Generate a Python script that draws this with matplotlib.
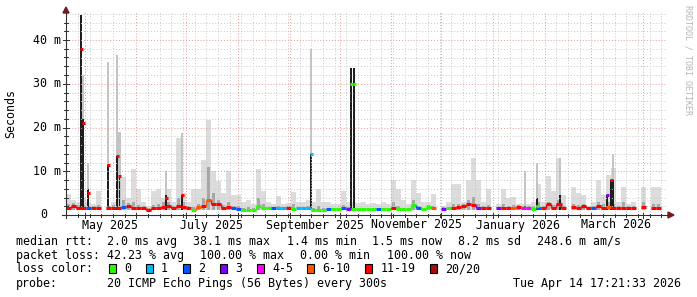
import numpy as np
import pandas as pd
import matplotlib
matplotlib.use('Agg')
import matplotlib.pyplot as plt
import matplotlib.dates as mdates
from matplotlib.patches import Rectangle, Polygon
from matplotlib.lines import Line2D

W, H = 697, 297

t_start = pd.Timestamp('2025-04-19 17:21:33')
t_end = pd.Timestamp('2026-04-14 17:21:33')
bin_days = 3

# one value per 3-day bin (120 bins), nan = 20/20 lost
median_ms = [
    1.5, 2.0, 1.5, 1.5, 1.5, 1.5, 1.5, np.nan, 1.5, 1.5,
    1.5, 1.8, 2.0, 1.5, 1.5, 1.5, 1.2, 1.5, 1.5, 1.8,
    2.0, 1.5, 2.0, 1.8, 1.5, 1.2, 1.8, 2.0, 3.5, 2.5,
    2.5, 1.5, 1.8, 1.5, 1.4, 1.1, 1.1, 1.1, 2.0, 1.6,
    1.5, 1.5, 1.5, 1.5, 1.5, 1.4, 1.5, 1.5, 1.5, 1.1,
    1.1, 1.1, 1.3, 1.3, 1.3, 1.5, 1.4, 1.3, 1.3, 1.3,
    1.3, 1.4, 1.4, 1.3, 1.3, 1.6, 1.4, 1.3, 1.3, 2.2,
    1.5, 1.3, 1.8, 1.5, np.nan, 1.4, 1.5, 1.5, 1.8, 2.0,
    2.5, 2.2, 1.5, 1.5, 1.5, np.nan, 1.5, 1.5, 1.5, 1.6,
    1.8, 1.6, 1.5, 1.3, 1.5, 1.5, 2.5, 1.5, 2.5, 1.5,
    np.nan, 1.8, 1.5, 2.0, 1.5, 1.5, 2.0, 1.6, 1.8, 1.5,
    1.5, 1.5, 1.5, 1.5, np.nan, 1.8, np.nan, 1.5, 1.5, np.nan,
]
loss_pings = [
    15, 15, 15, 15, 2, 15, 15, 20, 15, 15,
    15, 2, 15, 15, 15, 15, 15, 15, 15, 15,
    15, 15, 15, 15, 15, 0, 8, 15, 8, 15,
    15, 15, 15, 2, 2, 0, 0, 0, 0, 0,
    0, 2, 1, 1, 15, 0, 1, 1, 1, 0,
    0, 0, 2, 0, 0, 2, 3, 0, 0, 0,
    0, 0, 2, 0, 0, 15, 0, 0, 0, 0,
    2, 0, 0, 8, 20, 3, 0, 15, 15, 15,
    15, 15, 3, 15, 15, 20, 3, 15, 15, 8,
    15, 5, 5, 0, 2, 15, 15, 15, 15, 15,
    20, 15, 15, 15, 15, 2, 15, 15, 8, 15,
    15, 15, 15, 15, 20, 15, 20, 15, 15, 20,
]
smoke_max_ms = [
    4.8, 3.5, 3.0, 4.0, 3.0, 2.5, 5.5, np.nan, 2.0, 3.0,
    10.0, 8.6, 4.0, 10.5, 6.0, 3.0, 2.0, 5.5, 6.0, 4.0,
    6.0, 3.0, 17.5, 5.0, 3.0, 5.9, 5.9, 12.5, 21.6, 10.0,
    7.7, 5.0, 10.0, 4.5, 4.5, 3.0, 3.5, 2.5, 10.5, 5.5,
    3.0, 2.5, 4.3, 2.5, 2.8, 5.3, 3.0, 3.0, 3.5, 3.0,
    5.9, 3.0, 3.0, 2.5, 2.5, 5.5, 3.0, 3.0, 2.7, 3.0,
    2.5, 2.7, 2.5, 3.0, 2.5, 8.0, 6.0, 3.4, 2.5, 8.1,
    5.0, 3.0, 3.0, 4.9, np.nan, 2.0, 3.0, 7.0, 7.0, 3.0,
    8.0, 13.0, 8.0, 3.0, 6.0, np.nan, 2.5, 6.0, 4.0, 4.2,
    2.5, 2.5, 2.5, 3.0, 7.0, 3.0, 9.0, 5.5, 13.0, 4.5,
    np.nan, 6.4, 5.0, 4.5, 2.0, 3.0, 8.0, 4.5, 9.1, 10.7,
    3.0, 6.5, 2.5, 3.0, np.nan, 6.5, np.nan, 6.4, 6.4, np.nan,
]
smoke_mid_ms = [
    2.5, 2.8, 2.2, 2.2, 2.0, 2.0, 2.2, np.nan, 2.0, 2.2,
    4.0, 3.5, 2.8, 3.0, 2.2, 2.0, 1.6, 2.2, 2.5, 3.0,
    3.0, 2.0, 4.0, 3.0, 2.0, 1.8, 2.5, 4.0, 11.0, 5.0,
    3.5, 2.2, 3.0, 2.0, 2.0, 1.5, 1.8, 1.5, 4.0, 2.5,
    1.8, 1.8, 2.0, 1.8, 2.0, 2.5, 1.8, 1.8, 2.0, 1.5,
    2.0, 1.5, 1.6, 1.6, 1.6, 2.2, 1.8, 1.6, 1.6, 1.6,
    1.6, 1.7, 1.7, 1.6, 1.6, 3.0, 2.0, 1.6, 1.6, 3.5,
    2.0, 1.6, 2.2, 2.0, np.nan, 1.8, 1.8, 2.5, 2.5, 2.5,
    3.5, 4.2, 2.5, 2.0, 2.2, np.nan, 1.8, 2.5, 2.0, 2.2,
    2.2, 2.0, 2.0, 2.0, 3.0, 2.0, 3.0, 2.2, 3.5, 2.0,
    np.nan, 2.5, 2.2, 2.5, 1.8, 2.0, 3.0, 2.5, 3.0, 2.5,
    2.0, 3.0, 2.0, 2.0, np.nan, 3.0, np.nan, 2.5, 2.5, np.nan,
]
min_rtt_ms = 1.2

# short spikes narrower than a bin
spike_time = ['2025-04-28 18:00', '2025-04-30 00:00', '2025-05-03 00:00',
              '2025-05-15 00:00', '2025-05-20 10:00', '2025-05-21 22:00',
              '2025-06-18 18:00', '2025-06-28 10:00', '2025-09-13 18:00',
              '2025-10-07 18:00', '2025-10-09 14:00', '2026-01-20 05:00',
              '2026-01-27 10:00', '2026-02-10 05:00', '2026-03-10 10:00',
              '2026-03-12 18:00', '2026-03-14 00:00']
spike_max_ms = [45.7, 32, 12, 35, 36.5, 19, 10, 18.7, 38, 33.6, 33.6,
                10, 11.8, 13, 4.5, 8, 14]
spike_dark_ms = [45.7, 22, 6, 11.5, 13.5, 9, 4.5, 4.5, 14, 33.6, 33.6,
                 2, 4, 4.5, 4.5, 8, 8]
spike_median_ms = [38, 21, 5, 11.5, 13.5, 8.9, 4, 4.5, 14, 30, 30,
                   np.nan, 2, 2.5, 4.5, 8, np.nan]
spike_loss = [15, 15, 15, 15, 15, 15, 15, 15, 1, 0, 0, 15, 0, 15, 3, 15, 15]

loss_bounds = [0, 1, 2, 3, 5, 10, 19, 20]
loss_hex = ['#26ff00', '#00b8ff', '#0059ff', '#7e00ff', '#ff00ff',
            '#ff5500', '#ff0000', '#a01010']
loss_names = ['0', '1', '2', '3', '4-5', '6-10', '11-19', '20/20']

stats_rtt = ['2.0 ms avg', '38.1 ms max', '1.4 ms min', '1.5 ms now',
             '8.2 ms sd', '248.6 m am/s']
stats_loss = ['42.23 % avg', '100.00 % max', '0.00 % min', '100.00 % now']


def loss_color(n):
    for b, c in zip(loss_bounds, loss_hex):
        if n <= b:
            return c
    return loss_hex[-1]


def fx(x):
    return x / W


def fy(y):
    return 1 - y / H


mono = 'DejaVu Sans Mono'
fs = 8.4

fig = plt.figure(figsize=(W / 100, H / 100), dpi=100)
fig.patch.set_facecolor('white')
ax = fig.add_axes([fx(66), fy(215), 600 / W, 203 / H])
ymax = 203 / 4.375
t0 = mdates.date2num(t_start)
t1 = mdates.date2num(t_end)
ax.set_xlim(t0, t1)
ax.set_ylim(0, ymax)
for s in ax.spines.values():
    s.set_visible(False)

# smoke per bin
edges = t0 + bin_days * np.arange(len(median_ms))
med = np.array(median_ms, dtype=float)
hi = np.array(smoke_max_ms, dtype=float)
mid = np.array(smoke_mid_ms, dtype=float)
ok = ~np.isnan(hi)
ax.bar(edges[ok], hi[ok] - min_rtt_ms, bottom=min_rtt_ms, width=bin_days,
       align='edge', color='#dcdcdc', linewidth=0, zorder=1)
ax.bar(edges[ok] + 0.6, mid[ok] - min_rtt_ms, bottom=min_rtt_ms,
       width=bin_days - 1.2, align='edge', color='#a6a6a6', linewidth=0,
       zorder=1.1)

# spikes
sx = mdates.date2num(pd.to_datetime(spike_time))
smax = np.array(spike_max_ms)
sdark = np.array(spike_dark_ms)
ax.bar(sx, smax - min_rtt_ms, bottom=min_rtt_ms, width=1.6, color='#c4c4c4',
       linewidth=0, zorder=1.2)
ax.bar(sx, sdark - min_rtt_ms, bottom=min_rtt_ms, width=0.8, color='#1e1e1e',
       linewidth=0, zorder=1.3)

# grid
months = mdates.date2num(pd.date_range('2025-05-01', '2026-04-01', freq='MS'))
weeks = mdates.date2num(pd.date_range(t_start, t_end, freq='W-SUN').normalize())
minor_w = [w for w in weeks if np.min(np.abs(months - w)) > 0.5]
dot = (0, (1, 2))
ax.vlines(minor_w, 0, ymax, colors='#c8c8c8', linestyles=dot, lw=0.7, zorder=1.5)
ax.vlines(months, 0, ymax, colors='#e49a9a', linestyles=dot, lw=0.7, zorder=1.6)
ax.hlines([y for y in range(2, 47, 2) if y % 10], t0, t1, colors='#c8c8c8',
          linestyles=dot, lw=0.7, zorder=1.5)
ax.hlines([10, 20, 30, 40], t0, t1, colors='#e49a9a', linestyles=dot, lw=0.7,
          zorder=1.6)

# median line coloured by loss
prev = None
for i in range(len(med)):
    if loss_pings[i] >= 20 or np.isnan(med[i]):
        prev = None
        continue
    c = loss_color(loss_pings[i])
    ax.hlines(med[i], edges[i], edges[i] + bin_days, colors=c, lw=2.2, zorder=3)
    if prev is not None and abs(prev - med[i]) > 0.3:
        ax.vlines(edges[i], prev, med[i], colors=c, lw=1, zorder=3)
    prev = med[i]
for x, m, n in zip(sx, spike_median_ms, spike_loss):
    if not np.isnan(m):
        ax.hlines(m, x - 0.9, x + 0.9, colors=loss_color(n), lw=2.2, zorder=3.2)

ax.set_xticks([])
ax.set_yticks([])

# axes lines, ticks and arrows
axc = '#303030'
fig.add_artist(Line2D([fx(66), fx(66)], [fy(218), fy(12)], color=axc, lw=0.8))
fig.add_artist(Line2D([fx(62), fx(670)], [fy(215), fy(215)], color=axc, lw=0.8))
arr = '#7a1a1a'
fig.add_artist(Polygon([(fx(63), fy(13)), (fx(69), fy(13)), (fx(66), fy(7))],
                       closed=True, color=arr))
fig.add_artist(Polygon([(fx(668), fy(212)), (fx(668), fy(218)), (fx(674), fy(215))],
                       closed=True, color=arr))
px_day = 600 / 360.0
for w in weeks:
    xp = 66 + (w - t0) * px_day
    fig.add_artist(Line2D([fx(xp), fx(xp)], [fy(214), fy(217)], color=axc, lw=0.7))
for m in months:
    xp = 66 + (m - t0) * px_day
    fig.add_artist(Line2D([fx(xp), fx(xp)], [fy(213), fy(218)], color=axc, lw=0.7))
for v in range(0, 46, 2):
    yp = 215 - v * 4.375
    ln = 3 if v % 10 == 0 else 2
    fig.add_artist(Line2D([fx(66 - ln), fx(66 + ln)], [fy(yp), fy(yp)],
                          color=axc, lw=0.7))

# y labels
for v in [10, 20, 30, 40]:
    fig.text(fx(61), fy(215 - v * 4.375), f'{v} m', ha='right', va='center',
             family=mono, fontsize=fs)
fig.text(fx(47), fy(215), '0', ha='right', va='center', family=mono, fontsize=fs)
fig.text(fx(11), fy(114), 'Seconds', rotation=90, ha='center', va='center',
         family=mono, fontsize=fs)

# x labels centred half a month after the month start
for d, lab in zip(['2025-05-01', '2025-07-01', '2025-09-01', '2025-11-01',
                   '2026-01-01', '2026-03-01'],
                  ['May 2025', 'July 2025', 'September 2025', 'November 2025',
                   'January 2026', 'March 2026']):
    xp = 66 + (mdates.date2num(pd.Timestamp(d)) + 15 - t0) * px_day
    fig.text(fx(xp), fy(225), lab, ha='center', va='center', family=mono,
             fontsize=fs)

fig.text(fx(688), fy(5), 'RRDTOOL / TOBI OETIKER', rotation=270, ha='center',
         va='top', family=mono, fontsize=6, color='#b4b4b4')

# legend rows
row_y = [241.3, 255.3, 268.7, 283.5]
fig.text(fx(16), fy(row_y[0]), 'median rtt:', va='center', family=mono, fontsize=fs)
for xp, s in zip([107.3, 193.3, 286.7, 372.3, 458.3, 537.3], stats_rtt):
    fig.text(fx(xp), fy(row_y[0]), s, va='center', family=mono, fontsize=fs)
fig.text(fx(16), fy(row_y[1]), 'packet loss:', va='center', family=mono, fontsize=fs)
for xp, s in zip([107.3, 200, 300, 386.7], stats_loss):
    fig.text(fx(xp), fy(row_y[1]), s, va='center', family=mono, fontsize=fs)
fig.text(fx(16), fy(row_y[2]), 'loss color:', va='center', family=mono, fontsize=fs)
box_x = [108.7, 145.7, 182.7, 220, 256.7, 306.7, 365, 430]
for bx, c, lab in zip(box_x, loss_hex, loss_names):
    fig.add_artist(Rectangle((fx(bx), fy(row_y[2] + 4.7)), 7 / W, 9.3 / H,
                             facecolor=c, edgecolor='black', lw=0.8))
    fig.text(fx(bx + 15.3), fy(row_y[2]), lab, va='center', family=mono, fontsize=fs)
fig.text(fx(16), fy(row_y[3]), 'probe:', va='center', family=mono, fontsize=fs)
fig.text(fx(107.3), fy(row_y[3]), '20 ICMP Echo Pings (56 Bytes) every 300s',
         va='center', family=mono, fontsize=fs)
fig.text(fx(681), fy(row_y[3]), 'Tue Apr 14 17:21:33 2026', ha='right',
         va='center', family=mono, fontsize=fs)

fig.savefig('out.png', dpi=100, facecolor='white')
